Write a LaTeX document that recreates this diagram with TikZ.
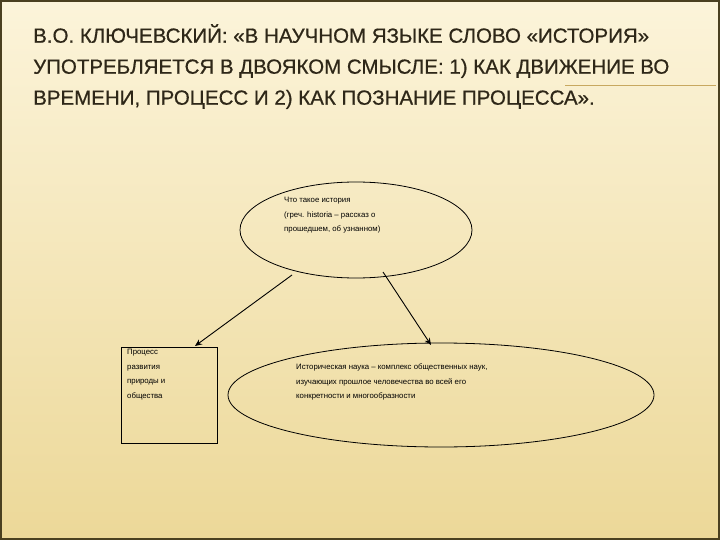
\documentclass[tikz,border=0pt]{standalone}
\usepackage{fontspec}
\setmainfont{Liberation Sans}
\newfontfamily\titlefont[FakeBold=0.6]{Liberation Sans}
\usetikzlibrary{shapes.geometric,arrows.meta}
\definecolor{bgtop}{HTML}{FCF4DA}
\definecolor{bgbot}{HTML}{ECD898}
\definecolor{frame}{HTML}{4A4020}
\definecolor{titlec}{HTML}{2E2718}
\definecolor{rulec}{HTML}{C8A860}
\tikzset{
  oval/.style={ellipse,draw=black,line width=0.8pt},
  boxn/.style={draw=black,line width=0.8pt},
  small/.style={font=\fontsize{7.8}{14.5}\selectfont,align=left,anchor=north west,inner sep=0pt},
  conn/.style={line width=0.9pt,-{Stealth[length=7pt,width=6pt]}},
  titlest/.style={font=\titlefont\fontsize{20.5}{31}\selectfont,text=titlec,align=left,anchor=north west,inner sep=0pt}
}
\begin{document}
\begin{tikzpicture}[x=1pt,y=-1pt]
\useasboundingbox (0,0) rectangle (720,540);
\shade[top color=bgtop,bottom color=bgbot] (0,0) rectangle (720,540);
\draw[frame,line width=1.5pt] (1,1) rectangle (719,539);
\coordinate (rl) at (565,85);
\coordinate (rr) at (716,85);
\draw[rulec,line width=0.8pt] (rl) -- (rr);
\node[titlest] (title) at (33,24) {В.О. КЛЮЧЕВСКИЙ: «В НАУЧНОМ ЯЗЫКЕ СЛОВО «ИСТОРИЯ»\\УПОТРЕБЛЯЕТСЯ В ДВОЯКОМ СМЫСЛЕ: 1) КАК ДВИЖЕНИЕ ВО\\ВРЕМЕНИ, ПРОЦЕСС И 2) КАК ПОЗНАНИЕ ПРОЦЕССА».};
\node[oval,minimum width=232,minimum height=96] (top) at (356,230) {};
\node[small] (toptext) at (284,197) {Что такое история\\(греч. historia – рассказ о\\прошедшем, об узнанном)};
\node[boxn,minimum width=96,minimum height=96] (box) at (169,395) {};
\node[small] (boxtext) at (127,349) {Процесс\\развития\\природы и\\общества};
\node[oval,minimum width=426,minimum height=104] (bot) at (441,395) {};
\node[small] (bottext) at (296,364) {Историческая наука – комплекс общественных наук,\\изучающих прошлое человечества во всей его\\конкретности и многообразности};
\coordinate (a1) at (292,275);
\coordinate (b1) at (195,346);
\coordinate (a2) at (383,272);
\coordinate (b2) at (431,345);
\draw[conn] (a1) -- (b1);
\draw[conn] (a2) -- (b2);
\end{tikzpicture}
\end{document}
